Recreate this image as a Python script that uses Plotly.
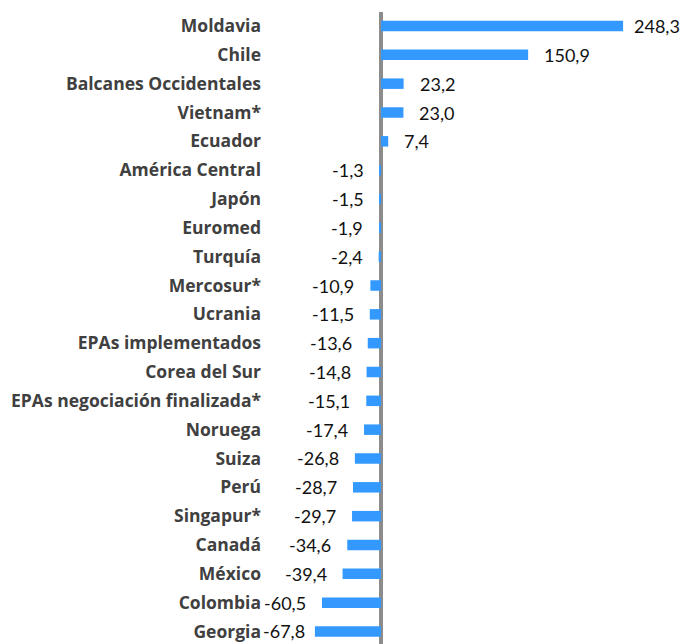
import plotly.graph_objects as go

categories = ["Moldavia", "Chile", "Balcanes Occidentales", "Vietnam*", "Ecuador",
              "América Central", "Japón", "Euromed", "Turquía", "Mercosur*", "Ucrania",
              "EPAs implementados", "Corea del Sur", "EPAs negociación finalizada*",
              "Noruega", "Suiza", "Perú", "Singapur*", "Canadá", "México", "Colombia", "Georgia"]
values = [248.3, 150.9, 23.2, 23.0, 7.4, -1.3, -1.5, -1.9, -2.4, -10.9, -11.5, -13.6,
          -14.8, -15.1, -17.4, -26.8, -28.7, -29.7, -34.6, -39.4, -60.5, -67.8]
labels = [f"{v:.1f}".replace(".", ",") for v in values]

W, H = 680, 644
ML, MR, MT, MB = 268, 2, 12, 0
plot_w = W - ML - MR
zero_px = 381 - ML
ppu = 0.975
xmin = -zero_px / ppu
xmax = (plot_w - zero_px) / ppu

VAL_FS = 18
CAT_FS = 17.5
LEFT_LIMIT = 266   # absolute px: value labels stay right of this
RIGHT_LIMIT = 678  # absolute px: value labels stay left of this
GAP = 16


def text_w(s):
    w = 0
    for ch in s:
        if ch.isdigit():
            w += 0.56
        elif ch == ",":
            w += 0.21
        else:
            w += 0.3
    return w * VAL_FS


fig = go.Figure()
fig.add_trace(go.Bar(
    x=values, y=categories, orientation="h",
    marker=dict(color="#3399ff", line=dict(width=0)),
    hoverinfo="skip",
))

annotations = []
for c, v, t in zip(categories, values, labels):
    end_abs = ML + (v - xmin) * ppu
    w = text_w(t)
    if v >= 0:
        shift = max(1, min(GAP, RIGHT_LIMIT - end_abs - w))
        annotations.append(dict(x=v, y=c, xref="x", yref="y", text=t, showarrow=False,
                                xanchor="left", yanchor="middle", xshift=shift,
                                borderpad=0, borderwidth=0,
                                font=dict(family="Lato", size=VAL_FS, color="#111111")))
    else:
        shift = max(1, min(GAP, end_abs - w - LEFT_LIMIT))
        annotations.append(dict(x=v, y=c, xref="x", yref="y", text=t, showarrow=False,
                                xanchor="right", yanchor="middle", xshift=-shift,
                                borderpad=0, borderwidth=0,
                                font=dict(family="Lato", size=VAL_FS, color="#111111")))

n = len(categories)
fig.update_layout(
    width=W, height=H,
    margin=dict(l=ML, r=MR, t=MT, b=MB, pad=0),
    paper_bgcolor="white", plot_bgcolor="white",
    showlegend=False,
    bargap=0.636,
    annotations=annotations,
    xaxis=dict(range=[xmin, xmax], showgrid=False, showticklabels=False, ticks="",
               zeroline=True, zerolinecolor="#8c8c8c", zerolinewidth=4, fixedrange=True),
    yaxis=dict(type="category", categoryorder="array", categoryarray=categories,
               range=[n - 1 + 0.434, -0.486], showgrid=False, zeroline=False, ticks="",
               ticklabelstandoff=6,
               tickfont=dict(family="Open Sans", size=CAT_FS, color="#404040", weight="bold"),
               fixedrange=True),
)

fig.write_html("out.html", config={"displayModeBar": False},
               post_script="document.body.style.margin='0';")
